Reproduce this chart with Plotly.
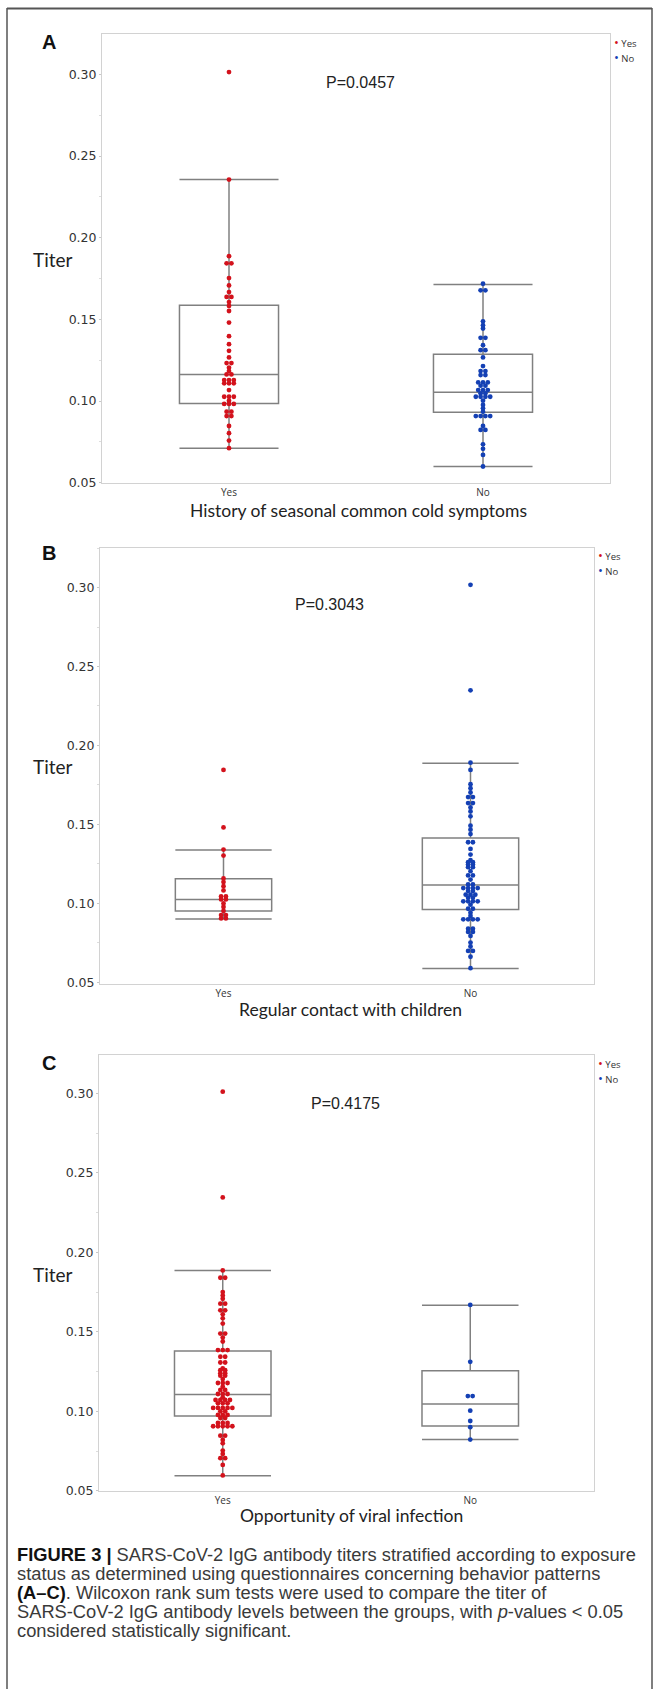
import plotly.graph_objects as go
from collections import Counter

W, H = 655, 1696

categories = ["Yes", "No"]
y_ticks = [0.05, 0.10, 0.15, 0.20, 0.25, 0.30]

# ---- Panel A: History of seasonal common cold symptoms ----
a_yes = [0.3014, 0.2356, 0.1887, 0.1843, 0.1843, 0.1753, 0.1708, 0.1667, 0.1637, 0.1637,
         0.1606, 0.1582, 0.1551, 0.1480, 0.1397, 0.1348, 0.1307, 0.1267, 0.1232, 0.1232,
         0.1204, 0.1183, 0.1163, 0.1163, 0.1128, 0.1128, 0.1128, 0.1108, 0.1108, 0.1108,
         0.1067, 0.1026, 0.1026, 0.1026, 0.1002, 0.0982, 0.0982, 0.0982, 0.0935, 0.0935,
         0.0908, 0.0908, 0.0847, 0.0803, 0.0758, 0.0711]
a_no = [0.1718, 0.1678, 0.1678, 0.1488, 0.1464, 0.1444, 0.1387, 0.1387, 0.1342, 0.1311,
        0.1311, 0.1267, 0.1214, 0.1183, 0.1183, 0.1159, 0.1159, 0.1114, 0.1114, 0.1114,
        0.1094, 0.1094, 0.1067, 0.1067, 0.1067, 0.1047, 0.1047, 0.1026, 0.1026, 0.1026,
        0.1026, 0.1002, 0.0976, 0.0955, 0.0935, 0.0908, 0.0908, 0.0908, 0.0908, 0.0847,
        0.0823, 0.0823, 0.0735, 0.0707, 0.0670, 0.0599]
a_q1 = [0.0984, 0.0931]
a_med = [0.1163, 0.1053]
a_q3 = [0.1586, 0.1287]
a_lo = [0.0711, 0.0599]
a_hi = [0.2356, 0.1714]

# ---- Panel B: Regular contact with children ----
b_yes = [0.1845, 0.1481, 0.1341, 0.1303, 0.1158, 0.1135, 0.1109, 0.1082, 0.1044, 0.1044,
         0.1025, 0.1025, 0.1000, 0.0977, 0.0952, 0.0926, 0.0926, 0.0905, 0.0905]
b_no = [0.3017, 0.2349, 0.1891, 0.1845, 0.1755, 0.1729, 0.1702, 0.1673, 0.1673, 0.1635,
        0.1635, 0.1607, 0.1582, 0.1551, 0.1492, 0.1467, 0.1439, 0.1387, 0.1387, 0.1345,
        0.1309, 0.1273, 0.1261, 0.1261, 0.1246, 0.1246, 0.1229, 0.1229, 0.1204, 0.1177,
        0.1177, 0.1151, 0.1120, 0.1120, 0.1097, 0.1097, 0.1097, 0.1097, 0.1078, 0.1078,
        0.1055, 0.1055, 0.1055, 0.1036, 0.1036, 0.1013, 0.1013, 0.1013, 0.1013, 0.0992,
        0.0966, 0.0966, 0.0941, 0.0920, 0.0899, 0.0899, 0.0899, 0.0899, 0.0840, 0.0840,
        0.0819, 0.0819, 0.0794, 0.0752, 0.0727, 0.0699, 0.0699, 0.0662, 0.0590]
b_q1 = [0.0952, 0.0962]
b_med = [0.1025, 0.1116]
b_q3 = [0.1156, 0.1414]
b_lo = [0.0901, 0.0588]
b_hi = [0.1338, 0.1887]

# ---- Panel C: Opportunity of viral infection ----
c_yes = [0.3010, 0.2345, 0.1886, 0.1840, 0.1840, 0.1750, 0.1729, 0.1708, 0.1677, 0.1677,
         0.1635, 0.1635, 0.1610, 0.1585, 0.1552, 0.1489, 0.1489, 0.1464, 0.1439, 0.1385,
         0.1385, 0.1385, 0.1343, 0.1343, 0.1307, 0.1307, 0.1270, 0.1259, 0.1259, 0.1240,
         0.1240, 0.1224, 0.1224, 0.1203, 0.1178, 0.1178, 0.1178, 0.1155, 0.1134, 0.1134,
         0.1109, 0.1109, 0.1109, 0.1088, 0.1071, 0.1071, 0.1071, 0.1071, 0.1050, 0.1050,
         0.1050, 0.1021, 0.1021, 0.1021, 0.1021, 0.1021, 0.1000, 0.1000, 0.0977, 0.0977,
         0.0977, 0.0958, 0.0958, 0.0927, 0.0927, 0.0927, 0.0906, 0.0906, 0.0906, 0.0906,
         0.0906, 0.0847, 0.0847, 0.0820, 0.0799, 0.0753, 0.0732, 0.0705, 0.0705, 0.0663,
         0.0597]
c_no = [0.1669, 0.1311, 0.1096, 0.1096, 0.1004, 0.0939, 0.0900, 0.0822]
c_q1 = [0.0971, 0.0908]
c_med = [0.1105, 0.1046]
c_q3 = [0.1380, 0.1255]
c_lo = [0.0595, 0.0822]
c_hi = [0.1886, 0.1667]

p_values = ["P=0.0457", "P=0.3043", "P=0.4175"]
panel_letters = ["A", "B", "C"]
x_titles = ["History of seasonal common cold symptoms",
            "Regular contact with children",
            "Opportunity of viral infection"]

RED = "#d3121c"
BLUE = "#1440b4"

# layout geometry (pixels)
panels = [
    dict(yes=a_yes, no=a_no, q1=a_q1, med=a_med, q3=a_q3, lo=a_lo, hi=a_hi,
         left=102, right=610, top=34, bottom=485, yr=[0.0498, 0.3248],
         letter_y=42, p_x=360, p_y=83, leg_x=612, leg_y=42, titer_y=261, xt_x=358, xt_y=513),
    dict(yes=b_yes, no=b_no, q1=b_q1, med=b_med, q3=b_q3, lo=b_lo, hi=b_hi,
         left=100, right=594, top=550, bottom=988, yr=[0.049, 0.3252],
         letter_y=555, p_x=329, p_y=607, leg_x=596, leg_y=557, titer_y=770, xt_x=350, xt_y=1014),
    dict(yes=c_yes, no=c_no, q1=c_q1, med=c_med, q3=c_q3, lo=c_lo, hi=c_hi,
         left=99, right=594, top=1059, bottom=1497, yr=[0.05, 0.3243],
         letter_y=1067, p_x=345, p_y=1108, leg_x=596, leg_y=1067, titer_y=1280, xt_x=351, xt_y=1522),
]


def px(x):
    return x / W


def py(y):
    return 1 - y / H


def swarm(vals, center, dx):
    totals = Counter(vals)
    seen = {}
    xs = []
    for v in vals:
        i = seen.get(v, 0)
        seen[v] = i + 1
        k = totals[v]
        xs.append(center + (i - (k - 1) / 2) * dx)
    return xs


fig = go.Figure()
annotations = []
layout_axes = {}

for idx, p in enumerate(panels):
    n = "" if idx == 0 else str(idx + 1)
    xa, ya = "x" + n, "y" + n
    plot_w = p["right"] - p["left"]
    dx = 4.8 * 2.0 / plot_w
    for ci, cat in enumerate(categories):
        fig.add_trace(go.Box(
            x=[ci], q1=[p["q1"][ci]], median=[p["med"][ci]], q3=[p["q3"][ci]],
            lowerfence=[p["lo"][ci]], upperfence=[p["hi"][ci]],
            width=0.39, whiskerwidth=1, boxpoints=False,
            fillcolor="rgba(0,0,0,0)", line=dict(color="#808080", width=1.5),
            xaxis=xa, yaxis=ya, showlegend=False, hoverinfo="skip"))
    for ci, (vals, col) in enumerate([(p["yes"], RED), (p["no"], BLUE)]):
        fig.add_trace(go.Scatter(
            x=swarm(vals, ci, dx), y=vals, mode="markers",
            marker=dict(color=col, size=4.8, line=dict(width=0)),
            xaxis=xa, yaxis=ya, showlegend=False, hoverinfo="skip"))

    layout_axes["xaxis" + n] = dict(
        domain=[px(p["left"]), px(p["right"])], anchor=ya, range=[-0.5, 1.5],
        tickvals=[0, 1], ticktext=categories, showgrid=False, zeroline=False,
        showline=True, mirror=True, linecolor="#d2d2d2", linewidth=1, ticks="",
        tickfont=dict(family="Open Sans", size=10, color="#333"))
    layout_axes["yaxis" + n] = dict(
        domain=[py(p["bottom"]), py(p["top"])], anchor=xa, range=p["yr"],
        tickvals=y_ticks, tickformat=".2f", showgrid=False, zeroline=False,
        showline=True, mirror=True, linecolor="#d2d2d2", linewidth=1,
        ticks="outside", ticklen=2, tickcolor="#c8c8c8",
        minor=dict(dtick=0.025, ticks="outside", ticklen=2, tickcolor="#dddddd"),
        tickfont=dict(family="DejaVu Sans", size=12.5, color="#333"))

    annotations += [
        dict(text="<b>" + panel_letters[idx] + "</b>", x=px(49), y=py(p["letter_y"]),
             font=dict(family="Liberation Sans", size=20, color="#111")),
        dict(text=p_values[idx], x=px(p["p_x"]), y=py(p["p_y"]),
             font=dict(family="Liberation Sans", size=16, color="#222")),
        dict(text="Titer", x=px(53), y=py(p["titer_y"]),
             font=dict(family="Lato", size=19, color="#222")),
        dict(text=x_titles[idx], x=px(p["xt_x"]), y=py(p["xt_y"]),
             font=dict(family="Lato", size=17.5, color="#222")),
        dict(text='<span style="color:%s;font-size:13px">•</span> Yes' % RED, x=px(p["leg_x"]),
             y=py(p["leg_y"]), xanchor="left",
             font=dict(family="Open Sans", size=9.5, color="#333")),
        dict(text='<span style="color:%s;font-size:13px">•</span> No' % BLUE, x=px(p["leg_x"]),
             y=py(p["leg_y"] + 15), xanchor="left",
             font=dict(family="Open Sans", size=9.5, color="#333")),
    ]

caption_lines = [
    '<b><span style="color:#111">FIGURE 3 |</span></b> SARS-CoV-2 IgG antibody titers stratified according to exposure',
    "status as determined using questionnaires concerning behavior patterns",
    '<b><span style="color:#111">(A–C)</span></b>. Wilcoxon rank sum tests were used to compare the titer of',
    "SARS-CoV-2 IgG antibody levels between the groups, with <i>p</i>-values &lt; 0.05",
    "considered statistically significant.",
]
caption_y = [1561, 1580, 1599, 1618, 1637]
for line, yy in zip(caption_lines, caption_y):
    annotations.append(dict(text=line, x=px(15), y=py(yy), xanchor="left",
                            font=dict(family="Liberation Sans", size=18.3, color="#3a3a3a")))

for a in annotations:
    a.setdefault("xanchor", "center")
    a.update(xref="paper", yref="paper", yanchor="middle", showarrow=False)

shapes = [
    dict(type="line", xref="paper", yref="paper", x0=px(7), x1=px(7), y0=py(8), y1=0,
         line=dict(color="#555", width=1.5)),
    dict(type="line", xref="paper", yref="paper", x0=px(7), x1=px(652), y0=py(8.5), y1=py(8.5),
         line=dict(color="#555", width=2)),
    dict(type="line", xref="paper", yref="paper", x0=px(652), x1=px(652), y0=py(8), y1=0,
         line=dict(color="#555", width=1.5)),
]

fig.update_layout(width=W, height=H, margin=dict(l=0, r=0, t=0, b=0),
                  paper_bgcolor="white", plot_bgcolor="white",
                  annotations=annotations, shapes=shapes, **layout_axes)

fig.write_html("out.html", config={"displayModeBar": False},
               post_script="document.body.style.margin='0';document.body.style.padding='0';")
